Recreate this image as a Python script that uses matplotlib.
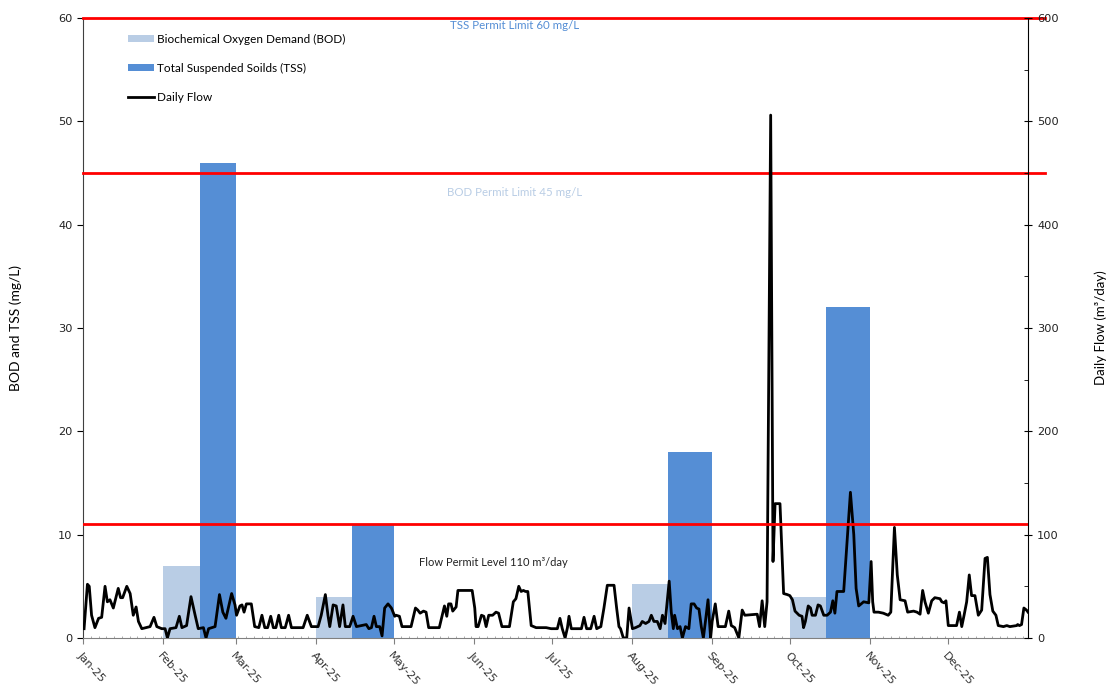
import datetime as dt

import matplotlib
matplotlib.use("Agg")
import matplotlib.pyplot as plt
import matplotlib.dates as mdates
from matplotlib.lines import Line2D
from matplotlib.patches import Patch
from matplotlib.ticker import MultipleLocator, FixedLocator

# ---- monthly lab results (mg/L) ----
sample_months = ["2025-02-01", "2025-04-01", "2025-08-01", "2025-10-01"]
bod_mg_l = [7.0, 4.0, 5.2, 4.0]
tss_mg_l = [46.0, 11.0, 18.0, 32.0]

# ---- daily flow record: days after 1 Jan 2025, flow in m3/day ----
flow_day = [
    0.4, 1.7, 2.4, 3.3, 4.6, 6.0, 7.2, 8.5, 9.4, 10.4, 11.7, 13.6, 14.5, 15.3,
    16.9, 18.2, 19.4, 20.5, 21.4, 22.7, 25.9, 27.4, 28.5, 30.4, 31.7, 32.6,
    33.6, 35.9, 37.2, 38.2, 40.0, 41.7, 43.3, 44.5, 46.5, 47.5, 48.5, 51.0,
    52.7, 54.0, 55.2, 57.4, 58.7, 59.3, 60.6, 61.4, 62.2, 63.1, 65.0, 66.3,
    67.9, 69.1, 70.2, 71.3, 72.5, 73.5, 74.5, 75.6, 76.6, 78.1, 79.4, 80.5,
    85.0, 86.6, 88.2, 90.8, 92.0, 93.6, 94.6, 95.3, 96.6, 97.8, 99.1, 100.4,
    101.3, 103.0, 104.3, 105.6, 107.5, 109.4, 110.4, 111.4, 112.4, 113.3,
    114.6, 115.5, 116.5, 117.8, 119.1, 120.4, 120.9, 122.2, 123.2, 126.7,
    128.4, 129.3, 130.2, 131.5, 132.5, 133.5, 137.6, 139.6, 140.5, 141.2,
    142.1, 142.8, 144.1, 144.8, 150.3, 151.3, 151.8, 152.6, 153.9, 154.8,
    155.7, 156.7, 158.2, 159.5, 160.5, 161.8, 164.7, 166.2, 167.2, 168.3,
    169.2, 170.1, 170.9, 171.8, 173.1, 175.0, 178.9, 180.8, 181.9, 183.2,
    184.2, 185.1, 186.2, 187.1, 187.7, 188.6, 192.5, 193.5, 194.5, 196.1,
    197.4, 198.4, 200.0, 201.2, 202.5, 205.1, 206.1, 207.0, 207.6, 208.7,
    210.0, 210.9, 212.2, 213.4, 215.1, 216.0, 217.3, 218.6, 219.5, 220.5,
    221.8, 222.9, 223.8, 224.8, 226.4, 227.2, 228.0, 228.5, 229.6, 230.6,
    231.5, 232.7, 234.0, 234.9, 236.0, 237.0, 237.9, 238.8, 239.6, 240.4,
    241.4, 242.4, 243.0, 244.2, 245.3, 248.1, 249.4, 250.4, 251.7, 253.3,
    254.6, 255.6, 260.4, 261.3, 262.3, 263.3, 264.2, 265.6, 266.5, 267.3,
    269.2, 270.6, 272.0, 273.0, 274.0, 275.0, 276.6, 277.7, 278.3, 279.0,
    280.1, 281.0, 281.6, 282.9, 283.9, 284.8, 286.1, 287.4, 288.7, 289.6,
    290.4, 291.2, 293.8, 295.1, 296.4, 297.7, 298.6, 299.6, 301.5, 303.5,
    304.4, 305.0, 305.5, 307.2, 309.1, 311.0, 312.0, 313.4, 314.5, 315.6,
    317.5, 318.5, 320.8, 322.1, 323.3, 324.3, 325.2, 326.5, 327.8, 329.0,
    331.0, 331.7, 332.6, 333.3, 334.2, 337.4, 338.5, 339.4, 340.3, 341.3,
    342.3, 343.2, 344.5, 345.8, 347.1, 348.4, 349.3, 350.3, 351.4, 352.6,
    353.5, 355.5, 356.8, 358.0, 360.6, 361.0, 361.7, 362.5, 363.4, 364.4,
    365.0,
]
flow_m3 = [
    9, 52, 50, 22, 10, 19, 20, 50, 35, 37, 29, 48, 39, 39,
    50, 43, 22, 30, 16, 9, 11, 20, 11, 9, 9, 0,
    9, 10, 21, 10, 12, 40, 22, 9, 10, 0, 9, 11,
    42, 25, 19, 43, 32, 22, 31, 32, 25, 33, 33, 11,
    10, 22, 10, 10, 21, 10, 10, 22, 10, 10, 22, 10,
    10, 22, 11, 11, 22, 42, 22, 11, 32, 31, 11, 32,
    11, 11, 21, 11, 12, 13, 9, 10, 21, 11,
    11, 2, 29, 33, 29, 21, 22, 21, 11, 11,
    29, 27, 24, 26, 25, 10, 10, 31, 21, 33,
    33, 26, 30, 46, 46, 29, 11, 11, 22, 21,
    11, 22, 22, 25, 24, 11, 11, 35, 38, 50,
    45, 46, 45, 45, 12, 10, 10, 9, 9, 9,
    19, 9, 0, 10, 21, 9, 9, 20, 9, 9,
    21, 9, 11, 29, 51, 51, 29, 11, 9, 0,
    0, 29, 9, 10, 12, 16, 14, 16, 22, 16,
    16, 9, 22, 14, 55, 25, 9, 22, 9, 11,
    0, 11, 9, 33, 33, 29, 28, 11, 0, 16,
    37, 0, 16, 33, 11, 11, 26, 12, 10, 0,
    27, 22, 23, 11, 36, 11, 35, 506, 74, 130,
    130, 43, 42, 41, 37, 26, 22, 21, 10, 16,
    31, 29, 22, 22, 32, 31, 22, 22, 25, 36,
    24, 45, 45, 93, 141, 100, 48, 31, 35, 34,
    74, 35, 25, 25, 24, 22, 25, 107, 61, 37,
    36, 25, 26, 25, 23, 46, 35, 24, 36, 39,
    38, 35, 34, 36, 12, 12, 25, 11, 22, 35,
    61, 41, 41, 22, 27, 77, 78, 42, 26, 22,
    12, 11, 12, 11, 12, 13, 12, 13, 29, 27,
    25,
]

# ---- permit limits ----
tss_limit_mg_l = 60
bod_limit_mg_l = 45
flow_limit_m3 = 110

BOD_COLOR = "#B9CDE5"
TSS_COLOR = "#558ED5"
LIMIT_COLOR = "#FF0000"
TEXT_FONT = ["Lato", "DejaVu Sans"]
TICK_FONT = ["DejaVu Sans"]

start = mdates.date2num(dt.datetime(2025, 1, 1))
end = mdates.date2num(dt.datetime(2026, 1, 1))

fig = plt.figure(figsize=(11.19, 6.86), dpi=100)
ax1 = fig.add_axes([0.0742, 0.070, 0.8445, 0.9038])
ax2 = ax1.twinx()

# monthly bars: BOD in the first half of the month, TSS in the rest
half = 14
for m, bod, tss in zip(sample_months, bod_mg_l, tss_mg_l):
    d0 = dt.datetime.strptime(m, "%Y-%m-%d")
    d1 = dt.datetime(d0.year + (d0.month == 12), d0.month % 12 + 1, 1)
    x0, x1 = mdates.date2num(d0), mdates.date2num(d1)
    ax1.bar(x0, bod, width=half, align="edge", color=BOD_COLOR, zorder=2)
    ax1.bar(x0 + half, tss, width=x1 - x0 - half, align="edge",
            color=TSS_COLOR, zorder=2)

# daily flow on the secondary axis
flow_x = [start + d for d in flow_day]
ax2.plot(flow_x, flow_m3, color="black", lw=2.0, solid_joinstyle="round",
         zorder=3)

# permit limit lines
ax1.plot([0, 1.018], [tss_limit_mg_l] * 2, color=LIMIT_COLOR, lw=2,
         transform=ax1.get_yaxis_transform(), clip_on=False, zorder=4)
ax1.plot([0, 1.018], [bod_limit_mg_l] * 2, color=LIMIT_COLOR, lw=2,
         transform=ax1.get_yaxis_transform(), clip_on=False, zorder=4)
ax2.axhline(flow_limit_m3, color=LIMIT_COLOR, lw=2, zorder=4)

mid = start + 166.5
ax1.text(mid, 59.3, "TSS Permit Limit 60 mg/L", color=TSS_COLOR,
         fontsize=8.3, ha="center", va="center", family=TEXT_FONT)
ax1.text(mid, 43.1, "BOD Permit Limit 45 mg/L", color=BOD_COLOR,
         fontsize=8.3, ha="center", va="center", family=TEXT_FONT)
ax1.text(start + 158.4, 7.26, "Flow Permit Level 110 m³/day", color="#222222",
         fontsize=8.0, ha="center", va="center", family=TEXT_FONT)

# axes
ax1.set_xlim(start, end)
ax1.set_ylim(0, 60)
ax2.set_ylim(0, 600)

month_starts = [mdates.date2num(dt.datetime(2025, k, 1)) for k in range(1, 13)]
ax1.xaxis.set_major_locator(FixedLocator(month_starts))
ax1.xaxis.set_major_formatter(mdates.DateFormatter("%b-%y"))
ax1.xaxis.set_minor_locator(mdates.DayLocator(interval=3))
ax1.yaxis.set_major_locator(MultipleLocator(10))
ax2.yaxis.set_major_locator(MultipleLocator(100))
ax2.yaxis.set_minor_locator(MultipleLocator(50))

for lab in ax1.get_xticklabels():
    lab.set_rotation(-48)
    lab.set_ha("left")
    lab.set_va("top")
    lab.set_rotation_mode("anchor")
    lab.set_fontsize(8.2)
    lab.set_family(TICK_FONT)
    lab.set_color("#333333")

ax1.tick_params(axis="x", which="major", direction="out", length=4,
                color="#808080", pad=5)
ax1.tick_params(axis="x", which="minor", direction="in", length=1.5,
                width=0.6, color="#a0a0a0")
ax1.tick_params(axis="y", direction="out", length=4, labelsize=8.2,
                labelcolor="#222222")
ax2.tick_params(axis="y", which="major", direction="inout", length=6,
                labelsize=8.2, labelcolor="#222222")
ax2.tick_params(axis="y", which="minor", direction="in", length=3)
for lab in ax1.get_yticklabels() + ax2.get_yticklabels():
    lab.set_family(TICK_FONT)

for ax in (ax1, ax2):
    ax.spines["top"].set_visible(False)
ax1.spines["right"].set_visible(False)
ax2.spines["left"].set_visible(False)
ax2.spines["bottom"].set_visible(False)
ax1.spines["bottom"].set_color("#808080")
ax1.spines["left"].set_color("#404040")
ax2.spines["right"].set_color("black")

ax1.set_ylabel("BOD and TSS (mg/L)", fontsize=10, family=TEXT_FONT,
               labelpad=26)
ax2.set_ylabel("Daily Flow (m³/day)", fontsize=9.5, family=TEXT_FONT,
               labelpad=26)

handles = [
    Patch(facecolor=BOD_COLOR, label="Biochemical Oxygen Demand (BOD)"),
    Patch(facecolor=TSS_COLOR, label="Total Suspended Soilds (TSS)"),
    Line2D([], [], color="black", lw=2, label="Daily Flow"),
]
ax2.legend(handles=handles, loc="upper left", bbox_to_anchor=(0.048, 0.975),
           frameon=False, prop={"family": TEXT_FONT, "size": 8.5},
           handlelength=2.2, handleheight=0.6, handletextpad=0.2,
           labelspacing=1.55, borderaxespad=0, borderpad=0)

fig.savefig("out.png", dpi=100)
